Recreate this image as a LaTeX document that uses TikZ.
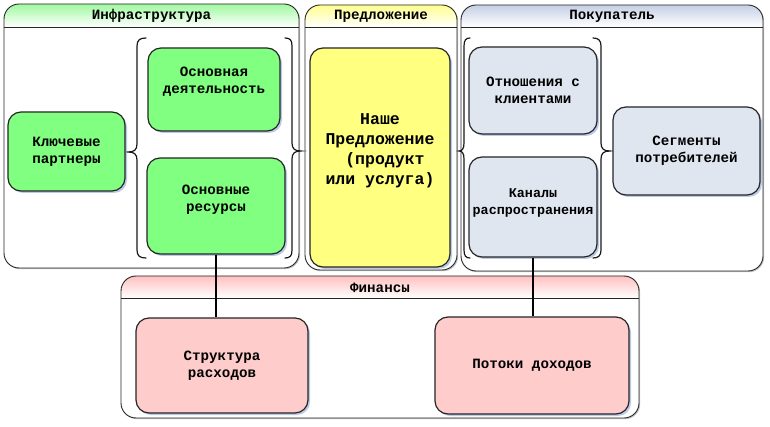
\documentclass[tikz,border=0pt]{standalone}
\usepackage{fontspec}
\setmainfont{Liberation Mono}
\usetikzlibrary{shadows}
\definecolor{nGreen}{HTML}{80FF80}
\definecolor{nYellow}{HTML}{FFFF80}
\definecolor{nBlue}{HTML}{DFE6F0}
\definecolor{nPink}{HTML}{FFCCCC}
\definecolor{tGreen}{HTML}{A0F8A0}
\definecolor{tYellow}{HTML}{FFFF90}
\definecolor{tBlue}{HTML}{C5CFE5}
\definecolor{tPink}{HTML}{FFC0C0}
\definecolor{shC}{HTML}{8FA8D8}
\tikzset{
  grp/.style={draw=black!85, line width=0.9pt},
  grpbody/.style={fill=white, rounded corners=15pt, drop shadow={shadow xshift=1.2pt, shadow yshift=-1.2pt, fill=gray, opacity=.45}},
  gtitle/.style={font=\bfseries\fontsize{14.2}{16.7}\selectfont, inner sep=0pt},
  box/.style={draw=black!85, line width=1.2pt, rounded corners=13pt, inner sep=0pt,
    align=center, font=\bfseries\fontsize{14.2}{16.7}\selectfont,
    drop shadow={shadow xshift=2pt, shadow yshift=-2pt, fill=shC, opacity=.6}},
  txt/.style={align=center, inner sep=0pt, font=\bfseries\fontsize{14.2}{16.7}\selectfont},
  brc/.style={draw=black!90, line width=1.2pt, line cap=round},
  conn/.style={draw=black, line width=1.2pt}
}
\begin{document}
\begin{tikzpicture}[x=1pt,y=-1pt]
\useasboundingbox (0,0) rectangle (770,427);
% ---------- Infrastructure group
\path[grpbody] (4,4) rectangle (299,268);
\begin{scope}
  \clip[rounded corners=15pt] (4,4) rectangle (299,268);
  \shade[top color=tGreen, bottom color=white] (4,4) rectangle (299,27);
\end{scope}
\draw[grp] (4,27) -- (299,27);
\draw[grp, rounded corners=15pt] (4,4) rectangle (299,268);
\node[gtitle] (tinfra) at (151.5,16) {Инфраструктура};
% ---------- Offer group
\path[grpbody] (305,5) rectangle (457,270);
\begin{scope}
  \clip[rounded corners=15pt] (305,5) rectangle (457,270);
  \shade[top color=tYellow, bottom color=white] (305,5) rectangle (457,27);
\end{scope}
\draw[grp] (305,27) -- (457,27);
\draw[grp, rounded corners=15pt] (305,5) rectangle (457,270);
\node[gtitle] (toffer) at (381,16) {Предложение};
% ---------- Customer group
\path[grpbody] (461,5) rectangle (763,271);
\begin{scope}
  \clip[rounded corners=15pt] (461,5) rectangle (763,271);
  \shade[top color=tBlue, bottom color=white] (461,5) rectangle (763,27);
\end{scope}
\draw[grp] (461,27) -- (763,27);
\draw[grp, rounded corners=15pt] (461,5) rectangle (763,271);
\node[gtitle] (tcust) at (612,16) {Покупатель};
% ---------- Finance group
\path[grpbody] (121,276) rectangle (639,418);
\begin{scope}
  \clip[rounded corners=15pt] (121,276) rectangle (639,418);
  \shade[top color=tPink, bottom color=white] (121,276) rectangle (639,298);
\end{scope}
\draw[grp] (121,298) -- (639,298);
\draw[grp, rounded corners=15pt] (121,276) rectangle (639,418);
\node[gtitle] (tfin) at (380,287.5) {Финансы};
% ---------- Braces
\draw[brc] (146,38) .. controls (140,38) and (137,40) .. (137,46) -- (137,144)
  .. controls (137,150) and (134,152) .. (128,152)
  .. controls (134,152) and (137,154) .. (137,160) -- (137,250)
  .. controls (137,256) and (140,258) .. (146,258);
\draw[brc] (285,38) .. controls (290,38) and (292,40) .. (292,46) -- (292,143)
  .. controls (292,149) and (295,151) .. (301,151)
  .. controls (295,151) and (292,153) .. (292,159) -- (292,250)
  .. controls (292,256) and (290,258) .. (285,258);
\draw[brc] (470,38) .. controls (466,38) and (464,40) .. (464,46) -- (464,143)
  .. controls (464,149) and (462,151) .. (459,151)
  .. controls (462,151) and (464,153) .. (464,159) -- (464,250)
  .. controls (464,256) and (466,258) .. (470,258);
\draw[brc] (593,38) .. controls (598,38) and (601,40) .. (601,46) -- (601,143)
  .. controls (601,149) and (604,151) .. (610,151)
  .. controls (604,151) and (601,153) .. (601,159) -- (601,250)
  .. controls (601,256) and (598,258) .. (593,258);
% ---------- Boxes
\node[box, fill=nGreen, minimum width=132pt, minimum height=83pt] (act) at (214,89.5) {};
\node[txt] (tact) at (214,82) {Основная\\деятельность};
\node[box, fill=nGreen, minimum width=117pt, minimum height=79pt] (part) at (66.5,151.5) {Ключевые\\партнеры};
\node[box, fill=nGreen, minimum width=138pt, minimum height=96pt] (res) at (216,206) {};
\node[txt] (tres) at (216,199.5) {Основные\\ресурсы};
\node[box, fill=nYellow, minimum width=140pt, minimum height=219pt] (offer) at (380,157.5) {};
\node[txt, font=\bfseries\fontsize{16.5}{20}\selectfont] (toff) at (380,151) {Наше\\Предложение\\~(продукт\\или услуга)};
\node[box, fill=nBlue, minimum width=128pt, minimum height=87pt] (rel) at (533,90.5) {Отношения с\\клиентами};
\node[box, fill=nBlue, minimum width=128pt, minimum height=100pt] (ch) at (533,207) {};
\node[txt, font=\bfseries\fontsize{13.4}{16.7}\selectfont] (tch) at (533,203) {Каналы\\распространения};
\node[box, fill=nBlue, minimum width=147pt, minimum height=88pt] (seg) at (686.5,151) {Сегменты\\потребителей};
\node[box, fill=nPink, minimum width=172pt, minimum height=95pt] (cost) at (222,365.5) {Структура\\расходов};
\node[box, fill=nPink, minimum width=194pt, minimum height=97pt] (rev) at (532,365.5) {Потоки доходов};
% ---------- Connectors
\draw[conn] (res.south) -- (res.south |- cost.north);
\draw[conn] (ch.south) -- (ch.south |- rev.north);
\end{tikzpicture}
\end{document}
